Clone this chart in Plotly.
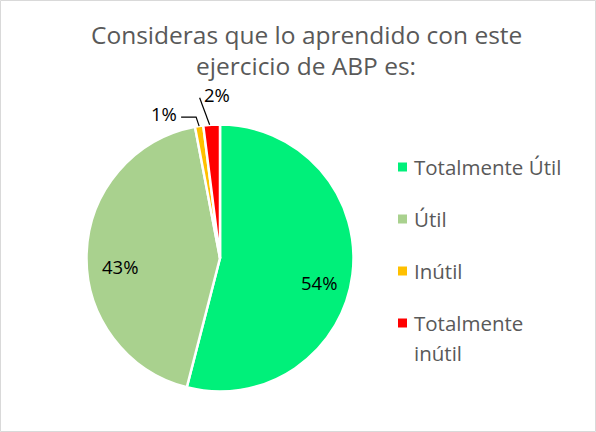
import math
import plotly.graph_objects as go

categories = ["Totalmente Útil", "Útil", "Inútil", "Totalmente inútil"]
legend_lines = [["Totalmente Útil"], ["Útil"], ["Inútil"], ["Totalmente", "inútil"]]
values = [54, 43, 1, 2]
colors = ["#00F07A", "#A9D18E", "#FFC000", "#FF0000"]
label_modes = ["inside", "inside", "elbow", "slant"]

W, H = 596, 432
CX, CY, R = 220, 258, 133.5  # pie centre / radius in pixels


def px(x):
    return x / W


def py(y):
    return 1 - y / H


fig = go.Figure()
fig.add_trace(go.Pie(
    labels=categories,
    values=values,
    sort=False,
    direction="clockwise",
    rotation=0,
    marker=dict(colors=colors, line=dict(color="white", width=2.5)),
    textinfo="none",
    showlegend=False,
    hoverinfo="label+percent",
    domain=dict(x=[px(CX - R), px(CX + R)], y=[py(CY + R), py(CY - R)]),
))

# data labels positioned from the slice angles
total = sum(values)
cum = 0
label_font = dict(family="Open Sans", size=18.5, color="black")
for v, mode in zip(values, label_modes):
    mid = (cum + v / 2) / total * 2 * math.pi
    cum += v
    sx, sy = math.sin(mid), -math.cos(mid)
    txt = f"{v}%"
    if mode == "inside":
        lx, ly = CX + 0.75 * R * sx, CY + 0.75 * R * sy + 12
        fig.add_annotation(x=px(lx), y=py(ly), xref="paper", yref="paper", text=txt,
                           showarrow=False, font=label_font, xanchor="center", yanchor="middle")
    else:
        ex, ey = CX + R * sx, CY + R * sy
        if mode == "elbow":
            p1 = (ex - 3, ey - 9)
            p2 = (ex - 18, ey - 9)
            fig.add_shape(type="path", xref="paper", yref="paper",
                          path=f"M {px(ex)} {py(ey)} L {px(p1[0])} {py(p1[1])} L {px(p2[0])} {py(p2[1])}",
                          line=dict(color="black", width=1.2))
            fig.add_annotation(x=px(p2[0] - 2), y=py(p2[1] - 4), xref="paper", yref="paper",
                               text=txt, showarrow=False, font=label_font,
                               xanchor="right", yanchor="middle")
        else:
            p1 = (ex - 12, ey - 27)
            fig.add_shape(type="line", xref="paper", yref="paper",
                          x0=px(ex - 2), y0=py(ey), x1=px(p1[0]), y1=py(p1[1]),
                          line=dict(color="black", width=1.2))
            fig.add_annotation(x=px(p1[0] + 2), y=py(p1[1] - 3), xref="paper", yref="paper",
                               text=txt, showarrow=False, font=label_font,
                               xanchor="left", yanchor="middle")

# manual legend built from the categories
legend_font = dict(family="Open Sans", size=20.5, color="#595959")
row_y = 167
for lines, col in zip(legend_lines, colors):
    fig.add_shape(type="rect", xref="paper", yref="paper",
                  x0=px(398), x1=px(407), y0=py(row_y + 4.5), y1=py(row_y - 4.5),
                  fillcolor=col, line=dict(width=0))
    ly = row_y
    for line in lines:
        fig.add_annotation(x=px(412), y=py(ly), xref="paper", yref="paper",
                           xanchor="left", yanchor="middle", showarrow=False,
                           text=line, font=legend_font)
        ly += 30
    row_y += 52

# title
title_font = dict(family="Open Sans", size=24.5, color="#595959")
fig.add_annotation(x=px(306), y=py(34), xref="paper", yref="paper",
                   text="Consideras que lo aprendido con este", showarrow=False,
                   xanchor="center", yanchor="middle", font=title_font)
fig.add_annotation(x=px(306), y=py(65), xref="paper", yref="paper",
                   text="ejercicio de ABP es:", showarrow=False,
                   xanchor="center", yanchor="middle", font=title_font)

# chart border
fig.add_shape(type="rect", xref="paper", yref="paper",
              x0=px(0.5), x1=px(W - 0.5), y0=py(H - 0.5), y1=py(0.5),
              line=dict(color="#D9D9D9", width=1))

fig.update_layout(
    width=W, height=H,
    margin=dict(l=0, r=0, t=0, b=0),
    paper_bgcolor="white",
    plot_bgcolor="white",
)

fig.write_html("out.html", config={"displayModeBar": False},
               post_script="document.body.style.margin='0';")
